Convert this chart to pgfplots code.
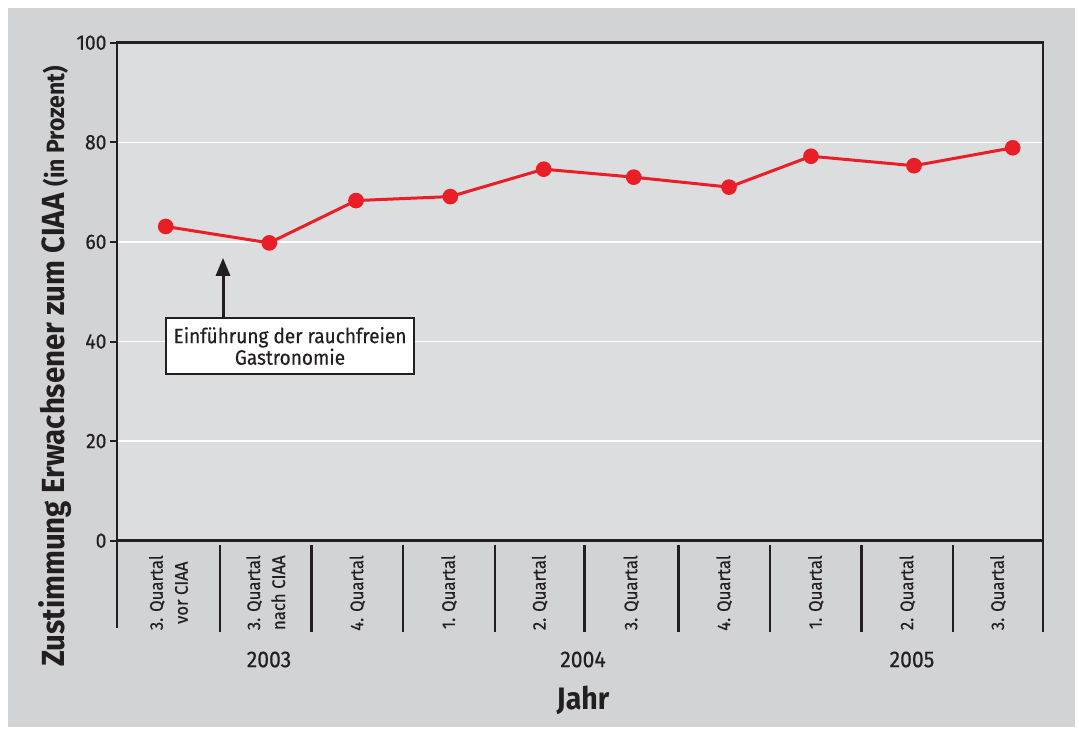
\documentclass[border=0pt]{standalone}
\usepackage{fontspec}
\setmainfont{Fira Sans}[FakeStretch=0.92, UprightFeatures={FakeBold=0.4}]
\usepackage{pgfplots}
\pgfplotsset{compat=1.18}
\usetikzlibrary{arrows.meta}
\definecolor{framegray}{RGB}{210,211,213}
\definecolor{plotgray}{RGB}{220,221,223}
\definecolor{ink}{RGB}{35,31,32}
\definecolor{seriesred}{RGB}{234,30,38}

\begin{document}
\begin{tikzpicture}
% page and panel background
\fill[white] (0bp,0bp) rectangle (1079bp,-730bp);
\fill[framegray] (8bp,-8bp) rectangle (1075bp,-727bp);
\begin{axis}[
  at={(117bp,-540.7bp)}, anchor=south west,
  x=1bp, y=4.98bp,
  xmin=0, xmax=926, ymin=0, ymax=100,
  clip=false,
  axis background/.style={fill=plotgray},
  axis line style={ink, line width=2.8bp},
  ytick={0,20,...,100}, ytick pos=left,
  tick align=outside, major tick length=7bp,
  y tick style={ink, line width=2bp},
  ymajorgrids, grid style={white, line width=1.3bp},
  /pgf/number format/assume math mode=true,
  yticklabel style={font=\fontsize{21bp}{25bp}\selectfont, text=ink},
  xtick={51.5,148.8,240.3,332,422.7,514.3,607.2,698.8,790.3,881},
  xticklabels={{3. Quartal\\vor CIAA},{3. Quartal\\nach CIAA},4. Quartal,1. Quartal,2. Quartal,3. Quartal,4. Quartal,1. Quartal,2. Quartal,3. Quartal},
  x tick style={draw=none},
  xticklabel shift=4bp,
  xticklabel style={rotate=90, anchor=east, align=center,
    font=\fontsize{18.2bp}{25bp}\selectfont, text=ink},
  every axis y label/.style={at={(axis cs:-53,35)}, rotate=90, anchor=base},
  ylabel={\fontsize{32bp}{38bp}\selectfont\bfseries Zustimmung Erwachsener zum CIAA {\fontsize{25bp}{28bp}\selectfont(in Prozent)}},
  ylabel style={text=ink},
]
\addplot[seriesred, line width=3bp, mark=*, mark size=6.3bp,
  mark options={fill=seriesred, draw=none}]
  coordinates {(48.7,63.1) (152.3,59.8) (239,68.3) (333.3,69.1) (426.7,74.6)
               (516.7,73.0) (612,71.0) (694,77.2) (797,75.3) (895.7,78.9)};

% separators between the quarter labels
\pgfplotsinvokeforeach{103,194.7,286,378,467.3,561.3,653,744.7,836}{
  \draw[ink, line width=2.5bp] (axis cs:#1,-0.86) -- (axis cs:#1,-18.4);
}
\draw[ink, line width=2.8bp] (axis cs:0,0) -- (axis cs:0,-17.6);
\draw[ink, line width=2.8bp] (axis cs:926,0) -- (axis cs:926,-18.4);

% year labels and axis title
\node[anchor=base, text=ink, font=\fontsize{23bp}{27bp}\selectfont] at (axis cs:152,-25.4) {2003};
\node[anchor=base, text=ink, font=\fontsize{23bp}{27bp}\selectfont] at (axis cs:466,-25.4) {2004};
\node[anchor=base, text=ink, font=\fontsize{23bp}{27bp}\selectfont] at (axis cs:795,-25.4) {2005};
\node[anchor=base, text=ink, font=\fontsize{31bp}{35bp}\selectfont\bfseries] at (axis cs:466,-33.8) {Jahr};

% annotation
\draw[ink, line width=3bp, -{Triangle[width=14bp,length=18bp]}] (axis cs:106,44.7) -- (axis cs:106,56.8);
\node[draw=ink, line width=2bp, fill=white, minimum width=248bp, minimum height=56bp,
  inner sep=2bp, align=center, text=ink, font=\fontsize{20.7bp}{20bp}\selectfont]
  at (axis cs:173,39.1) {Einführung der rauchfreien\\Gastronomie};
\end{axis}
\end{tikzpicture}
\end{document}
